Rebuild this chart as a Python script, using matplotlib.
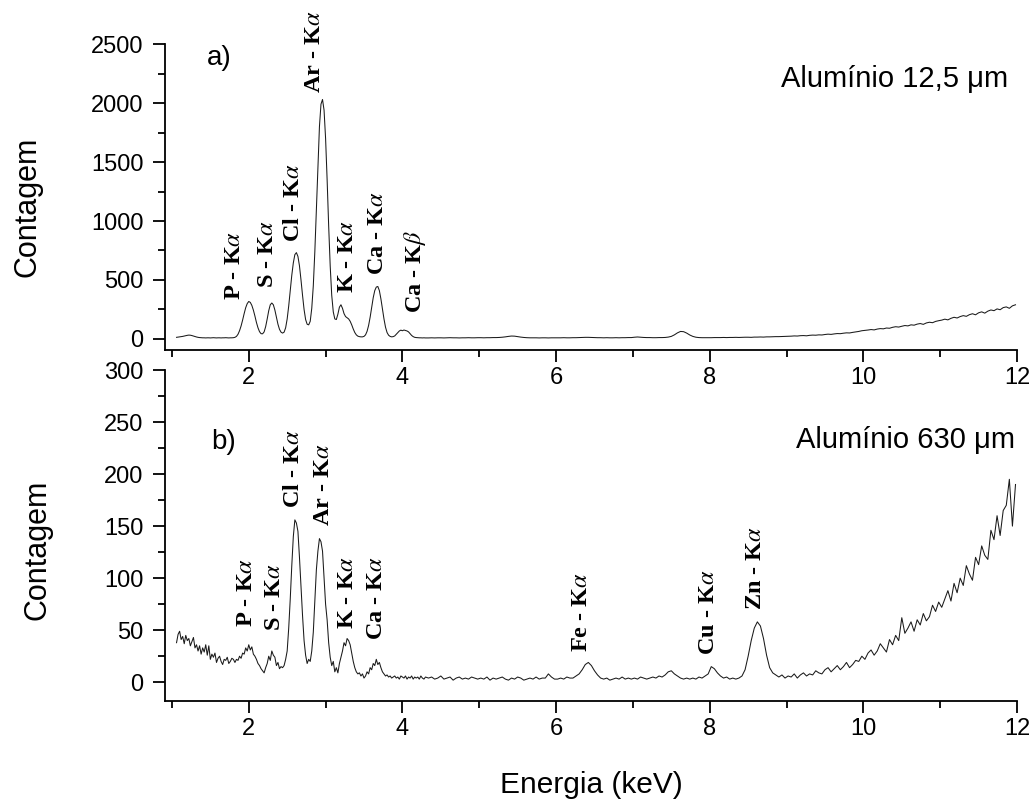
import numpy as np
import matplotlib
matplotlib.use("Agg")
import matplotlib.pyplot as plt
from matplotlib.ticker import MultipleLocator

plt.rcParams['font.family'] = ['Liberation Sans', 'DejaVu Sans']
plt.rcParams['mathtext.fontset'] = 'stix'

# ---------------- data ----------------
# energy calibration (keV): fine channels up to 4.30 keV, coarse channels after
fine_start, fine_step = 1.06, 0.02
coarse_start, coarse_step = 4.34, 0.04

# a) Aluminio 12,5 um
counts_a_fine = [
    14, 16, 18, 20, 22, 25, 28, 31, 33, 32, 29, 25, 21, 17, 14, 12, 11, 10,
    10, 9, 10, 10, 9, 10, 11, 10, 9, 10, 10, 9, 10, 10, 11, 10, 9, 10, 10, 11,
    14, 22, 40, 70, 110, 160, 215, 265, 300, 318, 310, 285, 245, 195, 140, 95, 62, 45, 44, 60,
    105, 170, 240, 290, 305, 290, 245, 185, 125, 82, 58, 50, 58, 95, 170, 280, 410, 540, 645, 715,
    732, 700, 620, 500, 370, 250, 165, 125, 120, 150, 260, 450, 740, 1100, 1480, 1800, 1990, 2030, 1940, 1700,
    1350, 960, 620, 370, 230, 170, 165, 210, 270, 290, 260, 215, 190, 180, 170, 150, 120, 85, 55, 35,
    24, 20, 18, 18, 22, 35, 65, 115, 185, 270, 350, 410, 440, 445, 410, 340, 255, 170, 100, 55,
    32, 22, 18, 20, 26, 40, 55, 68, 75, 70, 76, 72, 68, 60, 45, 30, 20, 14, 12, 11,
    10, 10, 9, 10, 9,
]
counts_a_coarse = [
    9, 10, 9, 10, 10, 9, 10, 11, 10, 10, 9, 10, 10, 11, 10, 10, 11,
    11, 10, 11, 11, 12, 12, 13, 15, 18, 22, 25, 24, 20, 16, 13, 11, 10, 10, 10, 9, 10, 10, 9, 10, 10,
    10, 10, 11, 10, 10, 11, 11, 12, 13, 14, 14, 13, 12, 11, 11, 10, 11, 10, 10, 11, 10, 11, 11, 12, 12,
    15, 17, 15, 13, 12, 12, 11, 11, 12, 12, 13, 16, 22, 35, 52, 64, 62, 50, 34, 22, 15, 12, 11, 11, 11,
    11, 12, 12, 12, 13, 12, 13, 13, 14, 13, 14, 15, 15, 14, 16, 16, 17, 16, 18, 18, 19, 20, 20, 21, 22,
    23, 24, 26, 25, 28, 29, 27, 31, 33, 32, 35, 34, 38, 41, 39, 43, 46, 45, 49, 52, 51, 56, 60, 64, 70,
    73, 76, 80, 77, 84, 88, 86, 93, 91, 99, 104, 101, 108, 114, 111, 120, 117, 126, 131, 124, 136, 142, 138, 149, 155,
    160, 168, 162, 175, 184, 178, 190, 198, 192, 206, 214, 205, 222, 230, 219, 236, 246, 240, 255, 248, 266, 272, 260, 281, 290,
]

# b) Aluminio 630 um
counts_b_fine = [
    38, 46, 49, 41, 44, 37, 45, 40, 42, 35, 39, 43, 33, 36, 30, 35, 27, 33,
    29, 36, 26, 35, 22, 27, 24, 28, 19, 23, 25, 20, 17, 22, 21, 24, 18, 20, 23, 22,
    19, 22, 21, 25, 23, 28, 27, 33, 30, 36, 31, 34, 27, 25, 22, 18, 16, 13, 11, 9,
    14, 18, 25, 21, 30, 26, 24, 16, 19, 13, 15, 14, 16, 22, 30, 52, 80, 112, 140, 156,
    153, 145, 120, 92, 64, 40, 26, 18, 22, 20, 30, 48, 78, 108, 126, 138, 135, 126, 100, 75,
    60, 38, 24, 16, 20, 10, 14, 9, 18, 24, 30, 38, 35, 42, 40, 36, 28, 20, 14, 10,
    8, 9, 6, 8, 4, 6, 10, 8, 14, 12, 18, 16, 22, 17, 19, 14, 10, 8, 6, 7,
    5, 6, 4, 5, 6, 4, 5, 3, 6, 5, 4, 6, 3, 5, 4, 6, 3, 5, 4, 5,
    3, 6, 4, 3, 5,
]
counts_b_coarse = [
    4, 5, 3, 4, 6, 3, 4, 5, 2, 4, 5, 3, 4, 3, 5, 4, 3,
    4, 3, 5, 2, 4, 3, 4, 5, 3, 2, 4, 3, 5, 4, 2, 3, 4, 3, 5, 3, 4, 4, 8, 5, 3,
    3, 4, 3, 5, 4, 4, 6, 8, 12, 17, 19, 16, 11, 7, 4, 3, 4, 2, 3, 4, 3, 5, 3, 4, 3,
    4, 3, 5, 4, 3, 4, 5, 4, 6, 5, 7, 10, 11, 8, 6, 4, 3, 4, 3, 4, 3, 5, 4, 6, 8,
    15, 13, 9, 6, 4, 5, 3, 4, 3, 4, 6, 12, 25, 40, 52, 58, 54, 42, 26, 14, 9, 7, 5, 7, 4,
    6, 5, 8, 4, 7, 9, 6, 8, 7, 11, 9, 8, 12, 14, 10, 13, 16, 12, 15, 19, 14, 17, 21, 20, 25,
    22, 28, 31, 26, 30, 37, 33, 29, 41, 36, 45, 40, 62, 47, 52, 58, 49, 60, 55, 66, 59, 63, 74, 68, 77,
    72, 80, 88, 78, 95, 86, 100, 93, 112, 104, 98, 120, 113, 131, 122, 118, 146, 137, 160, 141, 165, 170, 195, 150, 190,
]

# peak annotations
labels_a = ['P - K$\\alpha$', 'S - K$\\alpha$', 'Cl - K$\\alpha$', 'Ar - K$\\alpha$',
            'K - K$\\alpha$', 'Ca - K$\\alpha$', 'Ca - K$\\beta$']
labels_a_x = [1.82, 2.25, 2.58, 2.86, 3.29, 3.67, 4.17]
labels_a_y = [330, 430, 825, 2082, 387, 542, 218]

labels_b = ['P - K$\\alpha$', 'S - K$\\alpha$', 'Cl - K$\\alpha$', 'Ar - K$\\alpha$',
            'K - K$\\alpha$', 'Ca - K$\\alpha$', 'Fe - K$\\alpha$', 'Cu - K$\\alpha$', 'Zn - K$\\alpha$']
labels_b_x = [1.97, 2.34, 2.58, 2.97, 3.29, 3.66, 6.33, 7.98, 8.60]
labels_b_y = [53, 49, 167, 150, 51, 41, 29, 26, 69]

# ---------------- build ----------------
def energies(n_fine, n_coarse):
    e1 = fine_start + fine_step * np.arange(n_fine)
    e2 = coarse_start + coarse_step * np.arange(n_coarse)
    return np.concatenate([e1, e2])

energy_a = energies(len(counts_a_fine), len(counts_a_coarse))
spec_a = np.array(counts_a_fine + counts_a_coarse, dtype=float)
energy_b = energies(len(counts_b_fine), len(counts_b_coarse))
spec_b = np.array(counts_b_fine + counts_b_coarse, dtype=float)

fig = plt.figure(figsize=(10.32, 7.99), dpi=100)
ax_b = fig.add_axes([0.1599, 0.1227, 0.8256, 0.4142])
ax_a = fig.add_axes([0.1599, 0.5620, 0.8256, 0.3829])
ax_b.patch.set_visible(False)
ax_a.patch.set_visible(False)
ax_a.set_zorder(3)
ax_b.set_zorder(2)

peak_font = dict(family=['Liberation Serif', 'DejaVu Serif'], fontweight='bold', fontsize=17.5)

for ax, e, s, ylim, major, minor in [
        (ax_a, energy_a, spec_a, (-93, 2500), 500, 250),
        (ax_b, energy_b, spec_b, (-18, 300), 50, 25)]:
    ax.plot(e, s, color='#1a1a1a', lw=0.75)
    ax.set_xlim(0.91, 12.0)
    ax.set_ylim(*ylim)
    ax.xaxis.set_major_locator(MultipleLocator(2))
    ax.xaxis.set_minor_locator(MultipleLocator(1))
    ax.yaxis.set_major_locator(MultipleLocator(major))
    ax.yaxis.set_minor_locator(MultipleLocator(minor))
    for sp in ['top', 'right']:
        ax.spines[sp].set_visible(False)
    for sp in ['left', 'bottom']:
        ax.spines[sp].set_linewidth(1.3)
    ax.tick_params(which='major', direction='out', length=8.5, width=1.3, labelsize=17)
    ax.tick_params(which='minor', direction='out', length=5, width=1.3)
    ax.tick_params(axis='y', pad=7)
    ax.tick_params(axis='x', pad=4)

for lab, x, y in zip(labels_a, labels_a_x, labels_a_y):
    ax_a.text(x, y, lab, rotation=90, ha='center', va='bottom', **peak_font)
for lab, x, y in zip(labels_b, labels_b_x, labels_b_y):
    ax_b.text(x, y, lab, rotation=90, ha='center', va='bottom', **peak_font)

ax_a.text(1.45, 2322, 'a)', fontsize=20, ha='left', va='baseline')
ax_b.text(1.515, 224, 'b)', fontsize=20, ha='left', va='baseline')
ax_a.text(11.88, 2135, 'Alumínio 12,5 μm', fontsize=21, ha='right', va='baseline')
ax_b.text(11.97, 225, 'Alumínio 630 μm', fontsize=21, ha='right', va='baseline')

fig.text(27 / 1032, 1 - 207 / 799, 'Contagem', rotation=90, fontsize=22, ha='center', va='center')
fig.text(38 / 1032, 1 - 550 / 799, 'Contagem', rotation=90, fontsize=22, ha='center', va='center')
fig.text(591 / 1032, 1 - 793 / 799, 'Energia (keV)', fontsize=21.5, ha='center', va='baseline')

fig.savefig('out.png', dpi=100)
